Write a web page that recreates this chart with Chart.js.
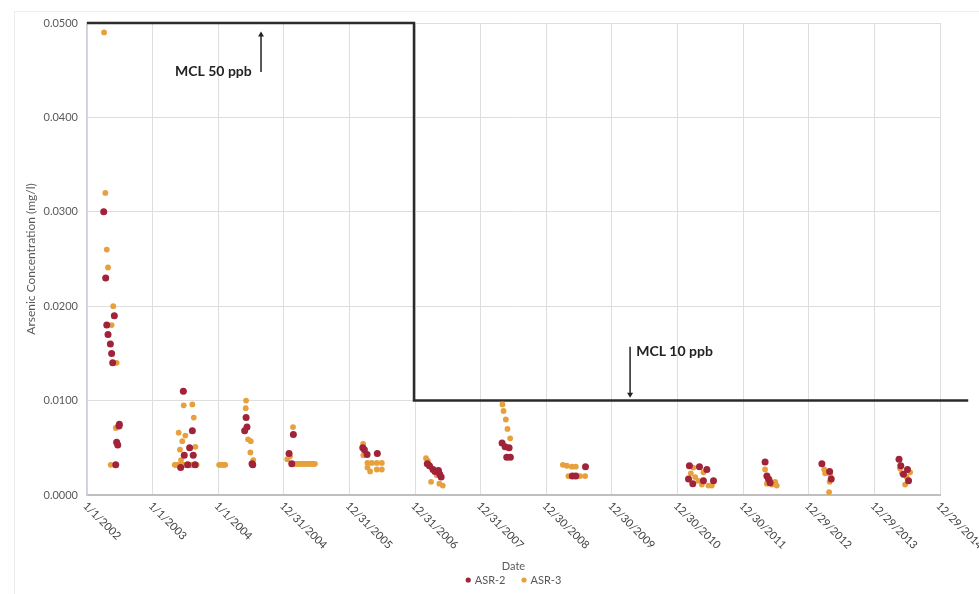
<!DOCTYPE html>
<html>
<head>
<meta charset="utf-8">
<script src="https://cdn.jsdelivr.net/npm/chart.js@4.4.1/dist/chart.umd.min.js"></script>
<style>
  html, body { margin: 0; padding: 0; background: #fff; }
  #wrap { width: 979px; height: 594px; }
</style>
</head>
<body>
<div id="wrap"><canvas id="chart" width="979" height="594"></canvas></div>
<script>
// ASR-2 samples (date, arsenic mg/l), one line per sampling campaign
const asr2Dates = [
  '2002-04-04', '2002-04-15', '2002-06-02', '2002-04-21', '2002-04-28', '2002-05-11', '2002-05-18', '2002-05-24', '2002-06-30', '2002-06-28', '2002-06-15', '2002-06-21', '2002-06-10',
  '2003-06-21', '2003-08-10', '2003-07-26', '2003-06-26', '2003-08-15', '2003-06-06', '2003-08-25', '2003-07-15',
  '2004-06-04', '2004-06-09', '2004-05-27', '2004-07-07', '2004-07-11',
  '2005-02-22', '2005-01-29', '2005-02-13',
  '2006-03-15', '2006-03-24', '2006-04-08', '2006-06-04',
  '2007-03-09', '2007-03-21', '2007-04-10', '2007-04-21', '2007-05-10', '2007-05-17', '2007-05-25',
  '2008-04-28', '2008-05-15', '2008-06-06', '2008-05-24', '2008-06-13',
  '2009-08-05', '2009-05-24', '2009-06-12',
  '2011-03-06', '2011-05-01', '2011-06-11', '2011-03-01', '2011-05-23', '2011-07-18', '2011-03-25',
  '2012-04-30', '2012-05-10', '2012-05-19', '2012-05-28',
  '2013-03-12', '2013-04-24', '2013-05-03',
  '2014-05-15', '2014-05-25', '2014-07-01', '2014-06-09', '2014-07-07'
];
const asr2Values = [
  0.0300, 0.0230, 0.0190, 0.0180, 0.0170, 0.0160, 0.0150, 0.0140, 0.0075, 0.0073, 0.0056, 0.0053, 0.0032,
  0.0110, 0.0068, 0.0050, 0.0042, 0.0042, 0.0029, 0.0032, 0.0032,
  0.0082, 0.0072, 0.0068, 0.0033, 0.0032,
  0.0064, 0.0044, 0.0033,
  0.0050, 0.0048, 0.0043, 0.0044,
  0.0033, 0.0031, 0.0027, 0.0025, 0.0026, 0.0022, 0.0019,
  0.0055, 0.0051, 0.0050, 0.0040, 0.0040,
  0.0030, 0.0020, 0.0020,
  0.0031, 0.0030, 0.0027, 0.0017, 0.0015, 0.0015, 0.0012,
  0.0035, 0.0020, 0.0017, 0.0013,
  0.0033, 0.0025, 0.0017,
  0.0038, 0.0031, 0.0027, 0.0022, 0.0015
];

// ASR-3 samples
const asr3Dates = [
  '2002-04-06', '2002-04-13', '2002-04-21', '2002-04-28', '2002-05-27', '2002-05-18', '2002-06-15', '2002-06-10', '2002-05-13',
  '2003-06-23', '2003-08-10', '2003-08-18', '2003-05-26', '2003-07-02', '2003-06-15', '2003-06-02', '2003-08-27', '2003-06-08',
  '2003-05-04', '2003-05-09', '2003-05-14', '2003-05-19', '2003-05-24', '2003-05-30', '2003-06-05', '2003-06-11', '2003-06-17', '2003-06-23', '2003-06-30',
  '2003-07-06', '2003-07-13', '2003-07-20', '2003-07-27', '2003-08-02', '2003-08-09', '2003-08-15', '2003-08-22', '2003-08-28', '2003-09-03',
  '2004-01-06', '2004-01-14', '2004-01-23', '2004-02-01', '2004-02-09',
  '2004-06-04', '2004-06-02', '2004-06-15', '2004-06-30', '2004-06-28', '2004-07-14',
  '2005-02-20', '2005-02-03', '2005-01-19', '2005-02-24', '2005-03-04', '2005-03-11', '2005-03-19', '2005-03-26', '2005-04-03', '2005-04-10',
  '2005-04-18', '2005-04-25', '2005-05-03', '2005-05-10', '2005-05-18', '2005-05-25', '2005-06-02', '2005-06-09', '2005-06-16', '2005-06-22',
  '2006-03-17', '2006-03-18', '2006-04-10', '2006-05-04', '2006-06-01', '2006-06-29', '2006-04-10', '2006-04-25', '2006-06-01', '2006-06-29',
  '2007-03-02', '2007-03-12', '2007-03-30', '2007-05-01', '2007-03-30', '2007-05-15', '2007-06-03',
  '2008-04-30', '2008-05-06', '2008-05-19', '2008-05-28', '2008-06-12',
  '2009-04-01', '2009-04-23', '2009-05-21', '2009-06-12', '2009-05-02', '2009-07-06', '2009-08-03',
  '2011-03-28', '2011-05-23', '2011-03-14', '2011-04-07', '2011-04-25', '2011-05-14', '2011-06-20', '2011-07-09',
  '2012-04-30', '2012-05-28', '2012-06-25', '2012-05-10', '2012-06-07', '2012-07-04',
  '2013-03-25', '2013-03-30', '2013-04-27', '2013-04-24', '2013-04-21',
  '2014-05-21', '2014-07-16', '2014-05-31', '2014-06-27', '2014-06-18'
];
const asr3Values = [
  0.0490, 0.0320, 0.0260, 0.0241, 0.0200, 0.0180, 0.0140, 0.0071, 0.0032,
  0.0095, 0.0096, 0.0082, 0.0066, 0.0063, 0.0057, 0.0048, 0.0051, 0.0037,
  0.0032, 0.0032, 0.0032, 0.0032, 0.0032, 0.0032, 0.0032, 0.0032, 0.0032, 0.0032, 0.0032,
  0.0032, 0.0032, 0.0032, 0.0032, 0.0032, 0.0032, 0.0032, 0.0032, 0.0032, 0.0032,
  0.0032, 0.0032, 0.0032, 0.0032, 0.0032,
  0.0100, 0.0092, 0.0059, 0.0057, 0.0045, 0.0037,
  0.0072, 0.0041, 0.0038, 0.0033, 0.0033, 0.0033, 0.0033, 0.0033, 0.0033, 0.0033,
  0.0033, 0.0033, 0.0033, 0.0033, 0.0033, 0.0033, 0.0033, 0.0033, 0.0033, 0.0033,
  0.0054, 0.0042, 0.0034, 0.0034, 0.0034, 0.0034, 0.0029, 0.0025, 0.0027, 0.0027,
  0.0039, 0.0036, 0.0029, 0.0021, 0.0014, 0.0012, 0.0010,
  0.0096, 0.0089, 0.0080, 0.0070, 0.0060,
  0.0032, 0.0031, 0.0030, 0.0030, 0.0020, 0.0020, 0.0020,
  0.0029, 0.0024, 0.0023, 0.0019, 0.0015, 0.0011, 0.0010, 0.0010,
  0.0027, 0.0016, 0.0014, 0.0012, 0.0011, 0.0010,
  0.0027, 0.0023, 0.0022, 0.0014, 0.0003,
  0.0028, 0.0024, 0.0023, 0.0019, 0.0011
];

// MCL step: 50 ppb, then 10 ppb
const mclDates = ['2002-01-01', '2006-12-25', '2006-12-25', '2015-06-04'];
const mclValues = [0.05, 0.05, 0.01, 0.01];

const xTickLabels = ['1/1/2002', '1/1/2003', '1/1/2004', '12/31/2004', '12/31/2005', '12/31/2006', '12/31/2007',
  '12/30/2008', '12/30/2009', '12/30/2010', '12/30/2011', '12/29/2012', '12/29/2013', '12/29/2014'];
const yTicks = [0, 0.01, 0.02, 0.03, 0.04, 0.05];

const notes = [
  { text: 'MCL 50 ppb', date: '2003-05-06', value: 0.0449 },
  { text: 'MCL 10 ppb', date: '2010-05-14', value: 0.0152 }
];
const arrows = [
  { date: '2004-08-26', from: 0.0448, to: 0.0491 },
  { date: '2010-04-10', from: 0.0157, to: 0.0103 }
];

const base = Date.UTC(2002, 0, 1);
function isoDay(s) {
  const p = s.split('-').map(Number);
  return (Date.UTC(p[0], p[1] - 1, p[2]) - base) / 86400000;
}
function usDay(s) {
  const p = s.split('/').map(Number);
  return (Date.UTC(p[2], p[0] - 1, p[1]) - base) / 86400000;
}
const pts = (dates, vals) => dates.map((d, i) => ({ x: isoDay(d), y: vals[i] }));

const FONT = 'Lato, "Open Sans", sans-serif';

const extras = {
  id: 'extras',
  beforeDraw(chart) {
    const ctx = chart.ctx;
    ctx.save();
    ctx.strokeStyle = '#ececec';
    ctx.lineWidth = 1;
    ctx.strokeRect(14.5, 11.5, 1000, 700);
    ctx.restore();
  },
  afterDraw(chart) {
    const { ctx, chartArea } = chart;
    const xs = chart.scales.x, ys = chart.scales.y;
    ctx.save();
    // rotated date labels
    ctx.font = '11px ' + FONT;
    ctx.fillStyle = '#404040';
    ctx.textAlign = 'left';
    ctx.textBaseline = 'middle';
    xTickLabels.forEach(l => {
      const px = xs.getPixelForValue(usDay(l));
      ctx.save();
      ctx.translate(px - 2, chartArea.bottom + 9);
      ctx.rotate(Math.PI / 4);
      ctx.fillText(l, 0, 0);
      ctx.restore();
    });

    // legend, centred under the plot
    const items = chart.data.datasets.filter(d => d.type === 'scatter');
    ctx.font = '11px ' + FONT;
    const gap = 16, dotW = 9;
    const widths = items.map(d => dotW + ctx.measureText(d.label).width);
    const total = widths.reduce((a, b) => a + b, 0) + gap * (items.length - 1);
    let lx = (chartArea.left + chartArea.right) / 2 - total / 2;
    const ly = 580;
    items.forEach((d, i) => {
      ctx.fillStyle = d.backgroundColor;
      ctx.beginPath();
      ctx.arc(lx + 2.5, ly, 2.6, 0, Math.PI * 2);
      ctx.fill();
      ctx.fillStyle = '#595959';
      ctx.fillText(d.label, lx + dotW, ly);
      lx += widths[i] + gap;
    });

    // MCL notes
    ctx.font = 'bold 14px ' + FONT;
    ctx.fillStyle = '#222';
    notes.forEach(n => ctx.fillText(n.text, xs.getPixelForValue(isoDay(n.date)), ys.getPixelForValue(n.value)));
    ctx.strokeStyle = '#222';
    ctx.lineWidth = 1.5;
    arrows.forEach(a => {
      const x = xs.getPixelForValue(isoDay(a.date));
      const y0 = ys.getPixelForValue(a.from), y1 = ys.getPixelForValue(a.to);
      const dir = y1 < y0 ? 1 : -1;
      ctx.beginPath();
      ctx.moveTo(x, y0);
      ctx.lineTo(x, y1 + dir * 3);
      ctx.stroke();
      ctx.beginPath();
      ctx.moveTo(x, y1);
      ctx.lineTo(x - 3, y1 + dir * 5);
      ctx.lineTo(x + 3, y1 + dir * 5);
      ctx.closePath();
      ctx.fill();
    });
    ctx.restore();
  }
};

new Chart(document.getElementById('chart'), {
  data: {
    datasets: [
      {
        type: 'scatter', label: 'ASR-2', data: pts(asr2Dates, asr2Values),
        backgroundColor: '#a0233a', borderColor: '#a0233a', pointRadius: 3.5, borderWidth: 0
      },
      {
        type: 'scatter', label: 'ASR-3', data: pts(asr3Dates, asr3Values),
        backgroundColor: '#e6a03c', borderColor: '#e6a03c', pointRadius: 2.9, borderWidth: 0
      },
      {
        type: 'line', label: 'MCL', data: pts(mclDates, mclValues),
        borderColor: '#2b2b2b', borderWidth: 2.5, pointRadius: 0, fill: false, clip: false
      }
    ]
  },
  options: {
    responsive: false,
    animation: false,
    devicePixelRatio: 1,
    layout: { padding: { top: 23, right: 39, left: 0, bottom: 0 } },
    plugins: {
      tooltip: { enabled: false },
      legend: { display: false }
    },
    scales: {
      x: {
        type: 'linear',
        min: 0,
        max: usDay(xTickLabels[xTickLabels.length - 1]),
        afterBuildTicks: s => { s.ticks = xTickLabels.map(l => ({ value: usDay(l) })); },
        afterFit: s => { s.height = 594 - 495; },
        ticks: { display: false },
        grid: { color: '#dedede', drawTicks: false },
        border: { color: '#bfbfbf', width: 2 },
        title: { display: true, text: 'Date', color: '#595959', font: { family: FONT, size: 11 }, padding: { top: 0, bottom: 21 } }
      },
      y: {
        min: 0,
        max: 0.05,
        afterBuildTicks: s => { s.ticks = yTicks.map(v => ({ value: v })); },
        afterFit: s => { s.width = 87; },
        ticks: { callback: v => v.toFixed(4), color: '#595959', font: { family: FONT, size: 11 }, padding: 9 },
        grid: { color: '#dedede', drawTicks: false },
        border: { color: '#ccd0d8', width: 1.5 },
        title: { display: true, text: 'Arsenic Concentration (mg/l)', color: '#595959', font: { family: FONT, size: 12 }, padding: { top: 24, bottom: 0 } }
      }
    }
  },
  plugins: [extras]
});
</script>
</body>
</html>
